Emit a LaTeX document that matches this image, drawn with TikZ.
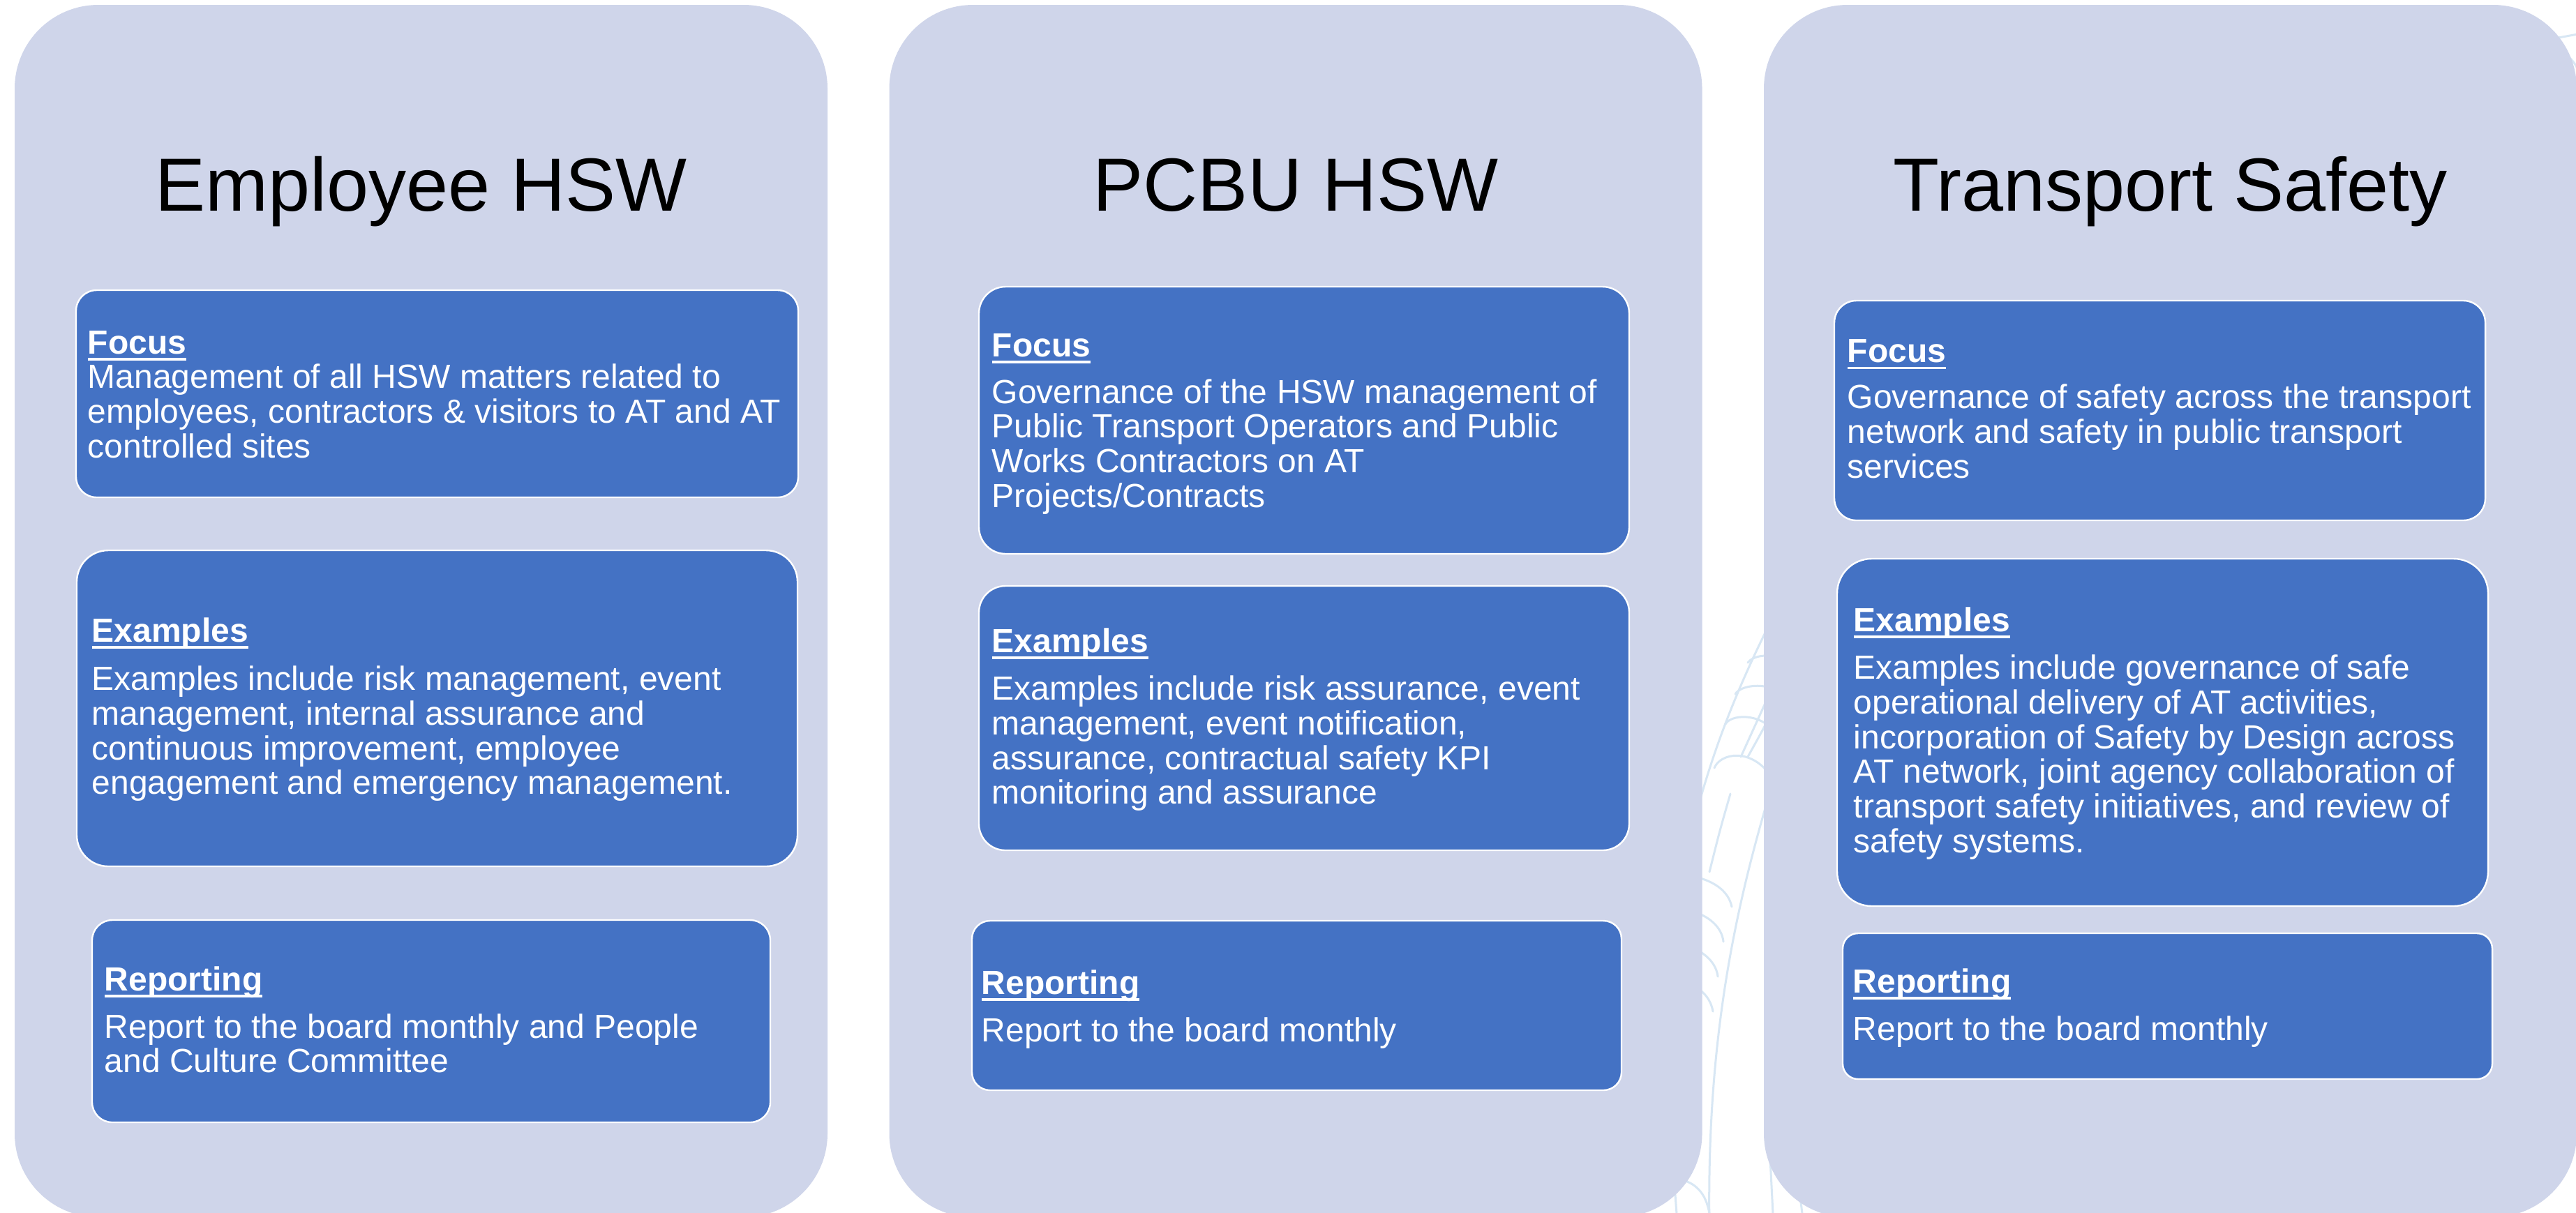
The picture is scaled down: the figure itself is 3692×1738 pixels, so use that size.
\documentclass[tikz,border=0pt]{standalone}
\usepackage{fontspec}
\setmainfont{Liberation Sans}
\definecolor{panelc}{HTML}{CFD5EA}
\definecolor{boxc}{HTML}{4472C4}
\definecolor{fernc}{HTML}{D8E7F4}
\newcommand{\hd}[1]{\setbox0\hbox{\bfseries #1}\rlap{\rule[-2.4pt]{\wd0}{0.85pt}}\box0}
\tikzset{
  panel/.style={fill=panelc, draw=none, inner sep=0, rounded corners=30pt, minimum width=291.25pt, minimum height=434.5pt},
  ibox/.style={fill=boxc, draw=white, line width=0.6pt, inner sep=0},
  txt/.style={anchor=base west, inner sep=0, text=white, font=\fontsize{12}{12.4}\selectfont},
  ttl/.style={anchor=base, inner sep=0, text=black, font=\fontsize{27}{32}\selectfont},
  fern/.style={draw=fernc, line width=0.75pt, line cap=round}
}
\begin{document}
\begin{tikzpicture}[x=0.25pt,y=-0.25pt]
\useasboundingbox (0,0) rectangle (3692,1738);
\clip (0,0) rectangle (3692,1738);
\fill[white] (0,0) rectangle (3692,1738);
% faint background fern
\draw[fern] (2575,820) .. controls (2510,940) and (2460,1050) .. (2425,1190);
\draw[fern] (2457,1101) .. controls (2465,1080) and (2510,1070) .. (2540,1115);
\draw[fern] (2473,1038) .. controls (2480,1025) and (2520,1020) .. (2545,1050);
\draw[fern] (2487,995) .. controls (2495,982) and (2530,978) .. (2550,992);
\draw[fern] (2505,950) .. controls (2512,940) and (2535,936) .. (2555,945);
\draw[fern] (2545,975) .. controls (2520,1030) .. (2495,1085);
\draw[fern] (2555,990) .. controls (2530,1040) .. (2505,1085);
\draw[fern] (2560,1060) .. controls (2500,1250) and (2445,1450) .. (2450,1760);
\draw[fern] (2480,1138) .. controls (2465,1190) .. (2450,1250);
\draw[fern] (2420,1255) .. controls (2460,1262) and (2478,1280) .. (2482,1300);
\draw[fern] (2420,1305) .. controls (2450,1312) and (2468,1330) .. (2470,1350);
\draw[fern] (2420,1357) .. controls (2445,1365) and (2460,1382) .. (2462,1400);
\draw[fern] (2420,1410) .. controls (2440,1418) and (2452,1432) .. (2455,1450);
\draw[fern] (2405,1690) .. controls (2430,1695) and (2445,1710) .. (2450,1740);
\draw[fern] (2400,1700) -- (2403,1740);
\draw[fern] (2537,1660) -- (2541,1740);
\draw[fern] (2580,1715) -- (2583,1740);
\draw[fern] (3650,57) -- (3700,48);
\draw[fern] (3680,80) .. controls (3690,90) .. (3700,110);
% panels
\node[panel] (p1) at (603.5,876) {};
\node[panel] (p2) at (1857,876) {};
\node[panel] (p3) at (3110.5,876) {};
% titles
\node[ttl] (h1) at (603.5,302) {Employee HSW};
\node[ttl] (h2) at (1857,302) {PCBU HSW};
\node[ttl] (h3) at (3110.5,302) {Transport Safety};
% inner boxes
\node[ibox, minimum width=258.75pt, minimum height=74.25pt, rounded corners=7.4pt] (f1) at (626.5,564.5) {};
\node[ibox, minimum width=258.25pt, minimum height=113.25pt, rounded corners=11.3pt] (e1) at (626.5,1015.5) {};
\node[ibox, minimum width=243pt, minimum height=72.5pt, rounded corners=7.25pt] (r1) at (618,1464) {};
\node[ibox, minimum width=233pt, minimum height=95.75pt, rounded corners=9.6pt] (f2) at (1869,602.5) {};
\node[ibox, minimum width=233pt, minimum height=94.75pt, rounded corners=9.5pt] (e2) at (1869,1029.5) {};
\node[ibox, minimum width=232.75pt, minimum height=60.75pt, rounded corners=6.5pt] (r2) at (1858.5,1441.5) {};
\node[ibox, minimum width=233.25pt, minimum height=78.75pt, rounded corners=7.9pt] (f3) at (3095.5,588.5) {};
\node[ibox, minimum width=233.25pt, minimum height=124.5pt, rounded corners=12.4pt] (e3) at (3099.5,1050) {};
\node[ibox, minimum width=232.75pt, minimum height=52.25pt, rounded corners=5.5pt] (r3) at (3106.5,1442.5) {};
% texts panel 1
\node[txt] (tf1) at (125,507) {\begin{tabular}[t]{@{}l@{}}\hd{Focus}\\
Management of all HSW matters related to\\
employees, contractors \& visitors to AT and AT\\
controlled sites\end{tabular}};
\node[txt] (te1) at (131,920) {\begin{tabular}[t]{@{}l@{}}\hd{Examples}\\[5pt]
Examples include risk management, event\\
management, internal assurance and\\
continuous improvement, employee\\
engagement and emergency management.\end{tabular}};
\node[txt] (tr1) at (149,1420) {\begin{tabular}[t]{@{}l@{}}\hd{Reporting}\\[4.6pt]
Report to the board monthly and People\\
and Culture Committee\end{tabular}};
% texts panel 2
\node[txt] (tf2) at (1421,511) {\begin{tabular}[t]{@{}l@{}}\hd{Focus}\\[4.4pt]
Governance of the HSW management of\\
Public Transport Operators and Public\\
Works Contractors on AT\\
Projects/Contracts\end{tabular}};
\node[txt] (te2) at (1421,935) {\begin{tabular}[t]{@{}l@{}}\hd{Examples}\\[4.8pt]
Examples include risk assurance, event\\
management, event notification,\\
assurance, contractual safety KPI\\
monitoring and assurance\end{tabular}};
\node[txt] (tr2) at (1406,1425) {\begin{tabular}[t]{@{}l@{}}\hd{Reporting}\\[4.6pt]
Report to the board monthly\end{tabular}};
% texts panel 3
\node[txt] (tf3) at (2647,519.5) {\begin{tabular}[t]{@{}l@{}}\hd{Focus}\\[4.2pt]
Governance of safety across the transport\\
network and safety in public transport\\
services\end{tabular}};
\node[txt] (te3) at (2656,905) {\begin{tabular}[t]{@{}l@{}}\hd{Examples}\\[4.8pt]
Examples include governance of safe\\
operational delivery of AT activities,\\
incorporation of Safety by Design across\\
AT network, joint agency collaboration of\\
transport safety initiatives, and review of\\
safety systems.\end{tabular}};
\node[txt] (tr3) at (2655,1423) {\begin{tabular}[t]{@{}l@{}}\hd{Reporting}\\[4.6pt]
Report to the board monthly\end{tabular}};
\end{tikzpicture}
\end{document}
